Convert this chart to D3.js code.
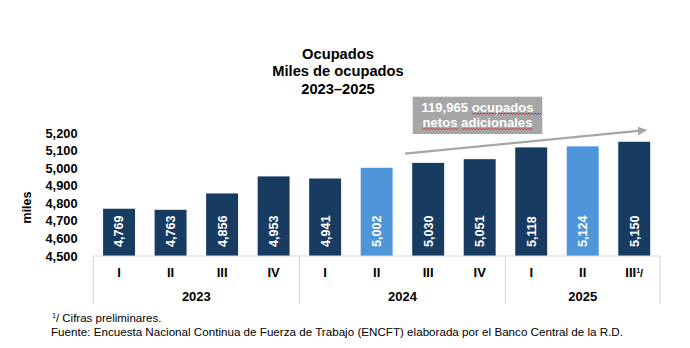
<!DOCTYPE html>
<html>
<head>
<meta charset="utf-8">
<script src="https://cdn.jsdelivr.net/npm/d3@7"></script>
<style>
  html, body { margin: 0; padding: 0; background: #fff; }
  svg { display: block; font-family: Arial, "Liberation Sans", sans-serif; }
</style>
</head>
<body>
<svg id="chart" width="690" height="348"></svg>
<script>
// Employed population by quarter (thousands)
const quarters = ["I", "II", "III", "IV", "I", "II", "III", "IV", "I", "II", "III"];
const years = ["2023", "2024", "2025"];
const quartersPerYear = [4, 4, 3];
const values = [4769, 4763, 4856, 4953, 4941, 5002, 5030, 5051, 5118, 5124, 5150];
const highlighted = [false, false, false, false, false, true, false, false, false, true, false];
const yTicks = [4500, 4600, 4700, 4800, 4900, 5000, 5100, 5200];
const titleLines = ["Ocupados", "Miles de ocupados", "2023–2025"];
const noteLines = ["119,965 ocupados", "netos adicionales"];

const DARK = "#183b62", LIGHT = "#4e95d9", AXISLINE = "#d9d9d9", NOTEGRAY = "#a6a6a6";

const svg = d3.select("#chart");
const plotLeft = 93.3, plotRight = 660, plotTop = 133, plotBottom = 256;

const x = d3.scaleBand().domain(d3.range(values.length)).range([plotLeft, plotRight]).padding(0);
const y = d3.scaleLinear().domain([4500, 5200]).range([plotBottom, plotTop]);
const barW = x.bandwidth() * 0.62;

// Title
svg.append("g").selectAll("text").data(titleLines).join("text")
  .attr("x", 338).attr("y", (d, i) => 53.7 + i * 17.5).attr("dy", "0.35em")
  .attr("text-anchor", "middle").attr("font-weight", "bold").attr("font-size", 14.7)
  .attr("fill", "#000").text(d => d);

// Y axis (labels only)
const yAxis = svg.append("g").attr("transform", `translate(${77.5},0)`)
  .call(d3.axisLeft(y).tickValues(yTicks).tickSize(0).tickPadding(0).tickFormat(d3.format(",")));
yAxis.select(".domain").remove();
yAxis.selectAll("text").attr("font-size", 12.8).attr("font-weight", "bold")
  .attr("fill", "#000").attr("font-family", "Arial, 'Liberation Sans', sans-serif");

svg.append("text").attr("transform", "translate(27,207.5) rotate(-90)")
  .attr("text-anchor", "middle").attr("dy", "0.35em")
  .attr("font-size", 12.5).attr("font-weight", "bold").text("miles");

// Bars
svg.append("g").selectAll("rect").data(values).join("rect")
  .attr("x", (d, i) => x(i) + (x.bandwidth() - barW) / 2)
  .attr("width", barW)
  .attr("y", d => y(d))
  .attr("height", d => y(4500) - y(d))
  .attr("fill", (d, i) => highlighted[i] ? LIGHT : DARK);

// Value labels, rotated inside bars
svg.append("g").selectAll("text").data(values).join("text")
  .attr("transform", (d, i) => `translate(${x(i) + x.bandwidth() / 2},247) rotate(-90)`)
  .attr("dy", "0.35em").attr("text-anchor", "start")
  .attr("font-size", 12.6).attr("font-weight", "bold").attr("fill", "#fff")
  .text(d => d3.format(",")(d));

// Category axis box
const axisG = svg.append("g");
axisG.append("line").attr("x1", plotLeft).attr("x2", plotRight).attr("y1", plotBottom).attr("y2", plotBottom)
  .attr("stroke", AXISLINE).attr("stroke-width", 1.2);
const bounds = [0];
quartersPerYear.reduce((acc, n) => { bounds.push(acc + n); return acc + n; }, 0);
const edge = i => i === values.length ? plotRight : x(i);
axisG.selectAll("line.sep").data(bounds).join("line").attr("class", "sep")
  .attr("x1", d => edge(d)).attr("x2", d => edge(d))
  .attr("y1", plotBottom).attr("y2", 304)
  .attr("stroke", AXISLINE).attr("stroke-width", 1.2);

const qLabels = axisG.selectAll("text.q").data(quarters).join("text").attr("class", "q")
  .attr("x", (d, i) => x(i) + x.bandwidth() / 2).attr("y", 272.3).attr("dy", "0.35em")
  .attr("text-anchor", "middle").attr("font-size", 13).attr("font-weight", "bold")
  .text(d => d);
// Last quarter carries the preliminary-figures mark
qLabels.filter((d, i) => i === values.length - 1).each(function () {
  const t = d3.select(this);
  t.append("tspan").attr("font-size", 7).attr("dy", "-0.55em").text("1");
  t.append("tspan").attr("font-size", 11).attr("dy", "0.4em").text("/");
});

axisG.selectAll("text.yr").data(years).join("text").attr("class", "yr")
  .attr("x", (d, i) => (edge(bounds[i]) + edge(bounds[i + 1])) / 2)
  .attr("y", 296).attr("dy", "0.35em")
  .attr("text-anchor", "middle").attr("font-size", 13).attr("font-weight", "bold")
  .text(d => d);

// Trend arrow
svg.append("defs").append("marker").attr("id", "head")
  .attr("viewBox", "0 0 10 10").attr("refX", 9).attr("refY", 5)
  .attr("markerWidth", 4).attr("markerHeight", 4).attr("orient", "auto")
  .append("path").attr("d", "M0,0 L10,5 L0,10 Z").attr("fill", NOTEGRAY);
svg.append("line").attr("x1", 405).attr("y1", 153.7).attr("x2", 646).attr("y2", 130.2)
  .attr("stroke", NOTEGRAY).attr("stroke-width", 2.2).attr("marker-end", "url(#head)");

// Annotation box
svg.append("rect").attr("x", 412.7).attr("y", 96.7).attr("width", 129.6).attr("height", 37.3)
  .attr("fill", NOTEGRAY);
svg.append("g").selectAll("text").data(noteLines).join("text")
  .attr("x", 477.5).attr("y", (d, i) => 107.3 + i * 15.4).attr("dy", "0.35em")
  .attr("text-anchor", "middle").attr("font-size", 13.1).attr("font-weight", "bold")
  .attr("fill", "#fff").text(d => d);

// Proofing squiggles under the annotation words
function squiggle(x0, x1, yy, color) {
  const pts = [];
  for (let xx = x0, k = 0; xx <= x1; xx += 1.5, k++) pts.push([xx, yy + (k % 2 ? 1 : -0.5)]);
  svg.append("path").attr("d", d3.line()(pts)).attr("fill", "none")
    .attr("stroke", color).attr("stroke-width", 0.9);
}
squiggle(472, 535, 113.5, "#e0202a");
squiggle(535, 541, 113.5, "#2a3ee0");
squiggle(422, 458, 128.8, "#e0202a");
squiggle(462, 533, 128.8, "#e0202a");

// Footnotes
const f1 = svg.append("text").attr("x", 52).attr("y", 322).attr("font-size", 11.5);
f1.append("tspan").attr("font-size", 7).attr("dy", "-4").text("1");
f1.append("tspan").attr("dy", "4").text("/ Cifras preliminares.");
svg.append("text").attr("x", 51).attr("y", 336).attr("font-size", 11.5)
  .attr("textLength", 572).attr("lengthAdjust", "spacingAndGlyphs")
  .text("Fuente: Encuesta Nacional Continua de Fuerza de Trabajo (ENCFT) elaborada por el Banco Central de la R.D.");
</script>
</body>
</html>
